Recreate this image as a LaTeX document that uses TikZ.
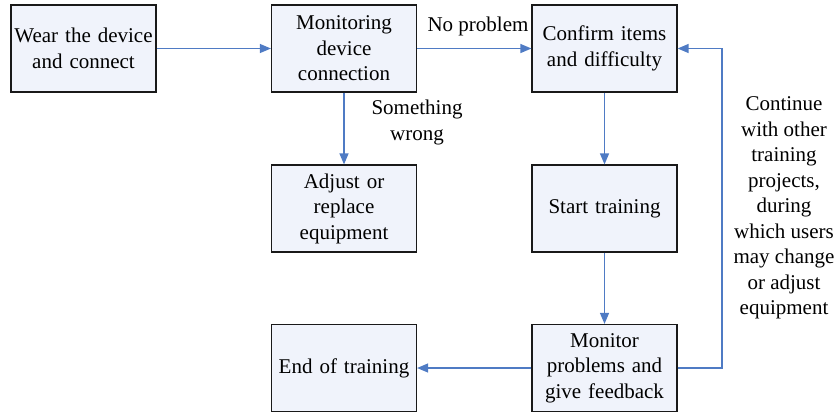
\documentclass[tikz,border=0pt]{standalone}
\usepackage{fontspec}
\setmainfont{Liberation Serif}
\usetikzlibrary{arrows.meta}
\definecolor{boxfill}{RGB}{240,243,251}
\definecolor{arrowblue}{RGB}{79,123,196}
\begin{document}
\begin{tikzpicture}[x=1pt,y=-1pt,
  box/.style={draw=black!90, line width=1.2pt, fill=boxfill, minimum width=145pt, minimum height=87pt,
    inner sep=0pt, align=center, text width=143pt, font=\fontsize{21}{25.5}\selectfont},
  lbl/.style={align=center, inner sep=0pt, font=\fontsize{21}{25.5}\selectfont},
  arr/.style={draw=arrowblue, line width=1.3pt, -{Triangle[length=11pt,width=9pt]}}]
\useasboundingbox (0,0) rectangle (835,415);
\node[box] (b1) at (83.5,48.5) {Wear the device\\and connect};
\node[box] (b2) at (344,48.5) {Monitoring\\device\\connection};
\node[box] (b3) at (604.5,48.5) {Confirm items\\and difficulty};
\node[box] (b4) at (344,208.5) {Adjust or\\replace\\equipment};
\node[box] (b5) at (604.5,208.5) {Start training};
\node[box] (b6) at (604.5,368) {Monitor\\problems and\\give feedback};
\node[box] (b7) at (344,368) {End of training};
\node[lbl] (l1) at (478,26) {No problem};
\node[lbl] (l2) at (417,122.5) {Something\\wrong};
\node[lbl] (l3) at (784,208) {Continue\\with other\\training\\projects,\\during\\which users\\may change\\or adjust\\equipment};
\draw[arr] (b1) -- (b2);
\draw[arr] (b2) -- (b3);
\draw[arr] (b2) -- (b4);
\draw[arr] (b3) -- (b5);
\draw[arr] (b5) -- (b6);
\draw[arr] (b6) -- (b7);
\coordinate (c1) at (722,368);
\draw[arr] (b6.east) -- (c1) |- (b3.east);
\end{tikzpicture}
\end{document}
